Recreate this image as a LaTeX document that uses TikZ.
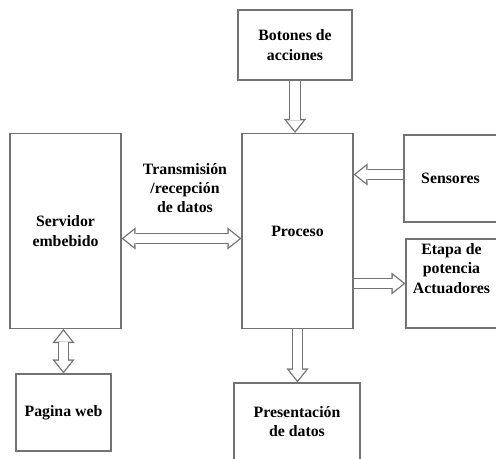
\documentclass[tikz,border=0pt]{standalone}
\usepackage{fontspec}
\setmainfont{Liberation Serif}
\usepackage{xcolor}
\usetikzlibrary{arrows.meta}
\definecolor{linegray}{gray}{0.45}
\tikzset{
  block/.style={
    draw=linegray,
    line width=0.75pt,
    align=center,
    inner sep=1pt,
    font=\fontsize{9}{11}\selectfont\bfseries
  },
  txt/.style={
    align=center,
    inner sep=1pt,
    font=\fontsize{9}{11}\selectfont\bfseries
  },
  bigflow/.style={
    draw=linegray, line width=6.8pt,
    -{Triangle[length=7.9pt,width=12.5pt,line width=0.1pt]},
    postaction={draw=white, line width=5.3pt, shorten >=1.21pt,
      -{Triangle[length=5.94pt,width=9.4pt,line width=0.1pt]}}
  },
  bigflowboth/.style={
    draw=linegray, line width=6.8pt,
    {Triangle[length=7.9pt,width=12.5pt,line width=0.1pt]}-{Triangle[length=7.9pt,width=12.5pt,line width=0.1pt]},
    postaction={draw=white, line width=5.3pt, shorten >=1.21pt, shorten <=1.21pt,
      {Triangle[length=5.94pt,width=9.4pt,line width=0.1pt]}-{Triangle[length=5.94pt,width=9.4pt,line width=0.1pt]}}
  }
}

\begin{document}
\begin{tikzpicture}[x=0.2mm, y=-0.2mm]
  \useasboundingbox (0,0) rectangle (496,458);

  \node[block, minimum width=22.8mm, minimum height=14mm] (botones) at (295,45) {Botones de\\acciones};
  \node[block, minimum width=22.2mm, minimum height=39mm] (proceso) at (297.5,231) {Proceso};
  \node[block, minimum width=22.2mm, minimum height=39mm] (servidor) at (65.5,231) {Servidor\\embebido};
  \node[block, minimum width=18.6mm, minimum height=17.4mm] (sensores) at (450.5,178.5) {Sensores};
  \node[block, minimum width=18.2mm, minimum height=17.8mm,
    label={[txt, yshift=3mm]center:{Etapa de\\potencia\\Actuadores}}] (etapa) at (451.5,283.5) {};
  \node[block, minimum width=19mm, minimum height=15.4mm] (pagina) at (63.5,412.5) {Pagina web};
  \node[block, minimum width=25.2mm, minimum height=15.4mm] (presentacion) at (297,421.5) {Presentación\\de datos};

  \coordinate (sensin) at ([yshift=0.8mm]sensores.west);
  \coordinate (servout) at ([yshift=-1.5mm]servidor.east);

  \draw[bigflow] (botones.south) -- (botones.south |- proceso.north);
  \draw[bigflow] (sensin) -- (sensin -| proceso.east);
  \draw[bigflow] (proceso.east |- etapa.west) -- (etapa.west);
  \draw[bigflow] (proceso.south) -- (proceso.south |- presentacion.north);
  \draw[bigflowboth] (servout) -- (servout -| proceso.west)
    node[midway, txt, xshift=0.7mm, yshift=10.1mm] {Transmisión\\/recepción\\de datos};
  \draw[bigflowboth] (pagina.north) -- (pagina.north |- servidor.south);
\end{tikzpicture}
\end{document}
